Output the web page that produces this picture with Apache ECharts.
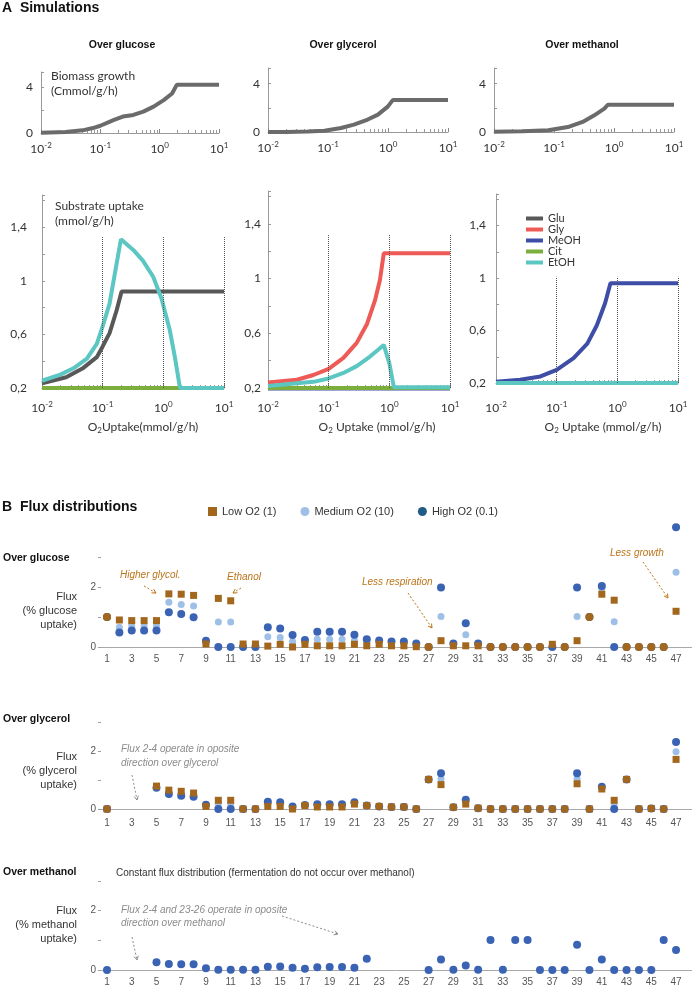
<!DOCTYPE html>
<html><head><meta charset="utf-8">
<script src="https://cdn.jsdelivr.net/npm/echarts@6/dist/echarts.min.js"></script>
<style>html,body{margin:0;padding:0;background:#fff}#c{width:692px;height:987px}</style>
</head><body><div id="c"></div>
<script>
// ---------- Simulation data: [O2 uptake, value] ----------
const biomassGlc = [[0.01,0.03],[0.026,0.08],[0.05,0.23],[0.075,0.43],[0.1,0.63],[0.17,1.14],[0.24,1.43],[0.36,1.57],[0.53,1.86],[0.79,2.29],[1.17,2.86],[1.62,3.43],[1.95,4.2],[10,4.2]];
const biomassGly = [[0.01,0.0],[0.02,0.01],[0.046,0.04],[0.087,0.11],[0.165,0.33],[0.27,0.61],[0.46,1.03],[0.68,1.44],[0.99,2.1],[1.2,2.64],[10,2.64]];
const biomassMeoh = [[0.01,0.02],[0.03,0.06],[0.08,0.14],[0.17,0.41],[0.3,0.83],[0.47,1.38],[0.69,1.93],[0.79,2.26],[10,2.26]];

const glcGlu = [[0.01,0.235],[0.025,0.28],[0.048,0.35],[0.08,0.43],[0.1,0.51],[0.13,0.61],[0.17,0.78],[0.205,0.92],[10,0.92]];
const glcEtoh = [[0.01,0.254],[0.02,0.30],[0.033,0.347],[0.055,0.42],[0.08,0.53],[0.1,0.66],[0.13,0.83],[0.17,1.13],[0.2,1.31],[0.32,1.23],[0.46,1.15],[0.68,1.03],[0.93,0.87],[1.28,0.63],[1.55,0.43],[1.88,0.2],[10,0.2]];
const glcCit = [[0.01,0.2],[10,0.2]];

const glyGly = [[0.01,0.24],[0.03,0.26],[0.056,0.295],[0.1,0.34],[0.175,0.42],[0.29,0.53],[0.43,0.67],[0.58,0.84],[0.7,0.99],[0.81,1.185],[10,1.185]];
const glyEtoh = [[0.01,0.215],[0.03,0.235],[0.056,0.245],[0.1,0.27],[0.175,0.31],[0.29,0.36],[0.48,0.43],[0.7,0.49],[0.81,0.515],[1.0,0.38],[1.19,0.205],[10,0.205]];
const glyMeoh = [[0.01,0.197],[10,0.197]];
const glyCit = [[0.01,0.2],[10,0.2]];

const meoMeoh = [[0.01,0.21],[0.025,0.225],[0.054,0.25],[0.1,0.30],[0.19,0.39],[0.32,0.5],[0.46,0.64],[0.63,0.81],[0.77,0.96],[10,0.96]];
const meoCit = [[0.01,0.2],[10,0.2]];
const meoEtoh = [[0.01,0.2],[10,0.2]];

const decadeLines = [0.1, 1, 10];

// ---------- Flux data (flux 1..47) ----------
const fluxIds = Array.from({length:47}, (_, i) => i + 1);
const fluxLabelIds = fluxIds.filter(v => v % 2 === 1);

const glcLow  = [1.0,0.9,0.88,0.88,0.88,1.77,1.76,1.72,0.1,1.62, 1.54,0.1,0.1,0.03,0.09,0.0,0.09,0.04,0.04,0.04, 0.09,0.04,0.09,0.04,0.04,0.01,0,0.21,0.04,0.04, 0.04,0,0,0,0,0,0.09,0,0.21,1.0, 1.76,1.56,0,0,0,0,1.19];
const glcMed  = [1.0,0.66,0.71,0.71,0.71,1.49,1.42,1.37,0.15,0.83, 0.83,0.02,0.02,0.34,0.32,0.18,0.15,0.26,0.26,0.26, 0.22,0.15,0.15,0.12,0.12,0.06,0,1.02,0.08,0.41, 0.08,0,0,0,0,0,0.02,0,1.02,1.0, 1.96,0.84,0,0,0,0,2.49];
const glcHigh = [1.0,0.48,0.55,0.55,0.55,1.16,1.1,0.99,0.21,0, 0,0,0,0.66,0.62,0.4,0.23,0.51,0.51,0.51, 0.41,0.26,0.22,0.18,0.18,0.12,0,1.98,0.12,0.79, 0.12,0,0,0,0,0,0,0,1.98,1.0, 2.03,0,0,0,0,0,3.99];
const glcRoundIds = [1,27,32,33,34,35,36,38,40,43,44,45,46];

const glyLow  = [0,null,null,null,0.79,0.65,0.61,0.55,0.09,0.3, 0.3,0,0,0.09,0.09,0,0.12,0.07,0.07,0.07, 0.17,0.12,0.09,0.07,0.07,0,1.02,0.84,0.06,0.17, 0.03,0,0,0,0,0,0,0,0.87,0, 0.69,0.3,1.02,0,0.02,0,1.71];
const glyMed  = [0,null,null,null,0.76,0.58,0.53,0.48,0.12,0.18, 0.18,0,0,0.17,0.16,0.04,0.13,0.11,0.11,0.11, 0.2,0.12,0.09,0.07,0.07,0,1.02,1.04,0.06,0.25, 0.03,0,0,0,0,0,0,0,1.04,0, 0.73,0.15,1.02,0,0.02,0,1.97];
const glyHigh = [0,null,null,null,0.73,0.52,0.46,0.42,0.15,0, 0,0,0,0.25,0.23,0.09,0.14,0.16,0.16,0.16, 0.23,0.12,0.09,0.07,0.07,0,1.02,1.23,0.06,0.32, 0.03,0,0,0,0,0,0,0,1.23,0, 0.77,0,1.02,0,0.02,0,2.31];

const meoFlux = [0,null,null,null,0.26,0.2,0.19,0.19,0.06,0.01, 0.01,0.01,0.01,0.11,0.12,0.08,0.04,0.09,0.1,0.1, 0.08,0.38,null,null,null,null,0,0.35,0.01,0.15, 0.01,1.01,0.01,1.01,1.01,0,0,0,0.85,0, 0.35,0,0,0,0,1.01,0.67];

// ---------- styling ----------
const SIMF = 'Lato, "Open Sans", sans-serif';
const FLXF = '"Liberation Sans", Arial, sans-serif';
const C = {Glu:'#585858', Gly:'#EE5A55', MeOH:'#3E4DA6', Cit:'#7BAE3C', EtOH:'#5CC6C3', bio:'#6b6b6b',
  low:'#A2661D', med:'#9EC0E7', high:'#3A63B4', highLeg:'#1E5C85', ann:'#BC7419', gray:'#8c8c8c'};

const chart = echarts.init(document.getElementById('c'), null, {renderer:'canvas'});

const grids = [
  {left:41, top:72, width:178, height:61},
  {left:268, top:68, width:180, height:64},
  {left:494, top:68, width:180, height:64},
  {left:42, top:195, width:182, height:193},
  {left:268, top:191, width:182, height:197},
  {left:496, top:194, width:182, height:189},
  {left:101, top:557, width:591, height:90},
  {left:101, top:722, width:591, height:87},
  {left:101, top:881, width:591, height:89}
];

const minorLogs = [];
[-2,-1,0].forEach(d => { for (let k = 2; k <= 9; k++) minorLogs.push(Math.log10(k * Math.pow(10, d))); });

const expRich = {
  b:{fontSize:12, fontFamily:SIMF, color:'#333', lineHeight:16},
  s:{fontSize:8, fontFamily:SIMF, color:'#333', verticalAlign:'top', lineHeight:8}
};
const logMargins = [8, 8, 8, 12, 12, 17];

const xAxes = [];
for (let i = 0; i < 6; i++) {
  xAxes.push({type:'log', logBase:10, gridIndex:i, min:0.01, max:10, position:'bottom',
    axisLine:{show:true, onZero:false, lineStyle:{color:'#9a9a9a', width:1}},
    axisTick:{show:true, inside:true, length:4, lineStyle:{color:'#888'}},
    splitLine:{show:false}, minorTick:{show:false},
    axisLabel:{margin:logMargins[i], rich:expRich,
      formatter: v => '{b|10}{s|' + Math.round(Math.log10(v)) + '}'}});
}
const fluxMargins = [7, 9, 7];
for (let i = 0; i < 3; i++) {
  xAxes.push({type:'value', gridIndex:6+i, min:0.515, max:48.29,
    axisLine:{show:true, onZero:true, lineStyle:{color:'#a8a8a8', width:1}},
    axisTick:{show:false}, splitLine:{show:false},
    axisLabel:{customValues:fluxLabelIds, margin:fluxMargins[i], fontSize:10, fontFamily:FLXF, color:'#555'}});
}
for (let i = 0; i < 6; i++) {
  xAxes.push({type:'value', gridIndex:i, min:-2, max:1, position:'bottom',
    axisLine:{show:false, onZero:false}, axisLabel:{show:false}, splitLine:{show:false},
    axisTick:{show:true, inside:true, length:3, customValues:minorLogs, lineStyle:{color:'#999'}}});
}

const yAxes = [];
for (let i = 0; i < 3; i++) {
  yAxes.push({type:'value', gridIndex:i, min:0, max:5.3, interval:2, position:'left',
    axisLine:{show:true, onZero:false, lineStyle:{color:'#9a9a9a', width:1}},
    axisTick:{show:true, inside:true, length:3, lineStyle:{color:'#999'}},
    splitLine:{show:false},
    axisLabel:{margin:8, fontSize:12, fontFamily:SIMF, color:'#333',
      formatter: v => (v === 0 || v === 4) ? String(v) : ''}});
}
const simYMargins = [15, 7, 10];
for (let i = 0; i < 3; i++) {
  yAxes.push({type:'value', gridIndex:3+i, min:0.2, max:1.64, interval:0.2, position:'left',
    axisLine:{show:true, onZero:false, lineStyle:{color:'#9a9a9a', width:1}},
    axisTick:{show:true, inside:true, length:3, lineStyle:{color:'#999'}},
    splitLine:{show:false},
    axisLabel:{margin:simYMargins[i], fontSize:12, fontFamily:SIMF, color:'#333',
      formatter: v => { const r = Math.round(v * 10); return r === 2 ? '0,2' : r === 6 ? '0,6' : r === 10 ? '1' : r === 14 ? '1,4' : ''; }}});
}
for (let i = 0; i < 3; i++) {
  yAxes.push({type:'value', gridIndex:6+i, min:0, max:3, interval:1, position:'left',
    axisLine:{show:false, onZero:false},
    axisTick:{show:true, length:3, lineStyle:{color:'#a0a0a0'}},
    splitLine:{show:false},
    axisLabel:{margin:5, fontSize:10, fontFamily:FLXF, color:'#555',
      formatter: v => (v === 0 || v === 2) ? String(v) : ''}});
}

function simLine(name, data, idx, color, extra) {
  return Object.assign({type:'line', name, data, xAxisIndex:idx, yAxisIndex:idx,
    showSymbol:false, symbol:'none', clip:false, silent:true,
    lineStyle:{width:4, color}, itemStyle:{color}}, extra || {});
}
function dotted(top) {
  return {markLine:{silent:true, symbol:'none', label:{show:false},
    lineStyle:{type:'dotted', color:'#555', width:1},
    data: decadeLines.map(x => [{coord:[x, 0.2]}, {coord:[x, top]}])}};
}
function fluxPts(arr) {
  const out = [];
  arr.forEach((v, i) => { if (v !== null) out.push([fluxIds[i], v]); });
  return out;
}
function fluxSeries(name, arr, idx, color, symbol, size) {
  return {type:'scatter', name, data:fluxPts(arr), xAxisIndex:6+idx, yAxisIndex:6+idx,
    symbol, symbolSize:size, itemStyle:{color, opacity:1}, silent:true, clip:false};
}

const series = [
  simLine('Biomass', biomassGlc, 0, C.bio),
  simLine('Biomass', biomassGly, 1, C.bio),
  simLine('Biomass', biomassMeoh, 2, C.bio),
  simLine('Glu', glcGlu, 3, C.Glu),
  simLine('Cit', glcCit, 3, C.Cit, dotted(1.33)),
  simLine('EtOH', glcEtoh, 3, C.EtOH),
  simLine('Gly', glyGly, 4, C.Gly),
  simLine('MeOH', glyMeoh, 4, C.MeOH, dotted(1.32)),
  simLine('Cit', glyCit, 4, C.Cit),
  simLine('EtOH', glyEtoh, 4, C.EtOH),
  simLine('MeOH', meoMeoh, 5, C.MeOH, dotted(1.01)),
  simLine('Cit', meoCit, 5, C.Cit),
  simLine('EtOH', meoEtoh, 5, C.EtOH),
  fluxSeries('Medium O2 (10)', glcMed, 0, C.med, 'circle', 7),
  fluxSeries('High O2 (0.1)', glcHigh, 0, C.high, 'circle', 8),
  Object.assign(fluxSeries('Low O2 (1)', glcLow, 0, C.low, 'rect', 7),
    {symbol: v => glcRoundIds.includes(v[0]) ? 'circle' : 'rect',
     symbolSize: v => glcRoundIds.includes(v[0]) ? 8 : 7}),
  fluxSeries('Medium O2 (10)', glyMed, 1, C.med, 'circle', 7),
  fluxSeries('High O2 (0.1)', glyHigh, 1, C.high, 'circle', 8),
  fluxSeries('Low O2 (1)', glyLow, 1, C.low, 'rect', 7),
  fluxSeries('High O2 (0.1)', meoFlux, 2, C.high, 'circle', 8)
];

// ---------- text & arrows ----------
function txt(x, y, text, o) {
  return {type:'text', x, y, silent:true, z:50,
    style:Object.assign({text, fill:'#333', fontSize:11, fontFamily:FLXF, align:'left', verticalAlign:'middle'}, o || {})};
}
function arrow(x1, y1, x2, y2, color) {
  const a = Math.atan2(y2 - y1, x2 - x1), L = 4.5, w = 0.5;
  const p1 = [x2 - L * Math.cos(a - w), y2 - L * Math.sin(a - w)];
  const p2 = [x2 - L * Math.cos(a + w), y2 - L * Math.sin(a + w)];
  return [
    {type:'line', silent:true, z:50, shape:{x1, y1, x2, y2}, style:{stroke:color, lineWidth:1, lineDash:[2,2]}},
    {type:'polyline', silent:true, z:50, shape:{points:[p1, [x2, y2], p2]}, style:{stroke:color, lineWidth:1, fill:null}}
  ];
}
function o2Label(x, y, gap) {
  return {type:'text', x, y, silent:true, z:50, style:{
    text:'{n|O}{s|2}{n|' + gap + 'Uptake' + (gap ? ' ' : '') + '(mmol/g/h)}',
    align:'center', verticalAlign:'middle',
    rich:{n:{fontSize:12, fontFamily:SIMF, fill:'#333', lineHeight:14},
          s:{fontSize:8, fontFamily:SIMF, fill:'#333', verticalAlign:'bottom', lineHeight:8}}}};
}
const bold14 = {fontSize:14, fontWeight:'bold', fontFamily:FLXF, fill:'#111'};
const bold11 = {fontSize:10.5, fontWeight:'bold', fontFamily:FLXF, fill:'#111'};
const simTxt = {fontSize:12, fontFamily:SIMF, fill:'#333'};
const annO = {fontSize:10, fontStyle:'italic', fontFamily:FLXF, fill:C.ann};
const annG = {fontSize:10, fontStyle:'italic', fontFamily:FLXF, fill:C.gray};
const rightTxt = {align:'right', fontSize:11, fontFamily:FLXF, fill:'#333'};

const graphics = [
  txt(2, 8, 'A  Simulations', bold14),
  txt(122, 45, 'Over glucose', Object.assign({align:'center'}, bold11)),
  txt(343, 45, 'Over glycerol', Object.assign({align:'center'}, bold11)),
  txt(582, 45, 'Over methanol', Object.assign({align:'center'}, bold11)),
  txt(51, 76, 'Biomass growth', simTxt),
  txt(51, 91, '(Cmmol/g/h)', simTxt),
  txt(55, 206, 'Substrate uptake', simTxt),
  txt(55, 221, '(mmol/g/h)', simTxt),
  o2Label(143, 427, ''),
  o2Label(377, 427, ' '),
  o2Label(603, 427, ' '),

  txt(2, 507, 'B  Flux distributions', bold14),
  txt(3, 558, 'Over glucose', bold11),
  txt(77, 597, 'Flux', rightTxt), txt(77, 611, '(% glucose', rightTxt), txt(77, 625, 'uptake)', rightTxt),
  txt(120, 575, 'Higher glycol.', annO),
  txt(227, 577, 'Ethanol', annO),
  txt(362, 582, 'Less respiration', annO),
  txt(610, 553, 'Less growth', annO),
  ...arrow(144, 586, 156, 593, C.ann),
  ...arrow(241, 588, 233, 593, C.ann),
  ...arrow(408, 593, 432, 628, C.ann),
  ...arrow(643, 562, 668, 598, C.ann),

  txt(3, 719, 'Over glycerol', bold11),
  txt(77, 757, 'Flux', rightTxt), txt(77, 771, '(% glycerol', rightTxt), txt(77, 785, 'uptake)', rightTxt),
  txt(121, 749, 'Flux 2-4 operate in oposite', annG),
  txt(121, 763, 'direction over glycerol', annG),
  ...arrow(132, 775, 137, 800, C.gray),

  txt(3, 872, 'Over methanol', bold11),
  txt(116, 873, 'Constant flux distribution (fermentation do not occur over methanol)', {fontSize:10, fontFamily:FLXF, fill:'#333'}),
  txt(77, 911, 'Flux', rightTxt), txt(77, 925, '(% methanol', rightTxt), txt(77, 939, 'uptake)', rightTxt),
  txt(121, 910, 'Flux 2-4 and 23-26 operate in oposite', annG),
  txt(121, 923, 'direction over methanol', annG),
  ...arrow(132, 937, 137, 960, C.gray),
  ...arrow(282, 916, 338, 934, C.gray)
];

chart.setOption({
  animation:false,
  backgroundColor:'#fff',
  grid: grids,
  xAxis: xAxes,
  yAxis: yAxes,
  legend: [
    {data:['Glu','Gly','MeOH','Cit','EtOH'], orient:'vertical', left:521, top:208,
     icon:'rect', itemWidth:17, itemHeight:4, itemGap:0, selectedMode:false,
     textStyle:{fontFamily:SIMF, fontSize:11, color:'#333', lineHeight:11}},
    {data:[{name:'Low O2 (1)', icon:'rect'}, {name:'Medium O2 (10)', icon:'circle'},
           {name:'High O2 (0.1)', icon:'circle', itemStyle:{color:C.highLeg}}],
     left:203, top:501, itemWidth:9, itemHeight:9, itemGap:24, selectedMode:false,
     textStyle:{fontFamily:FLXF, fontSize:11, color:'#333'}}
  ],
  graphic: graphics,
  series
});
</script></body></html>
